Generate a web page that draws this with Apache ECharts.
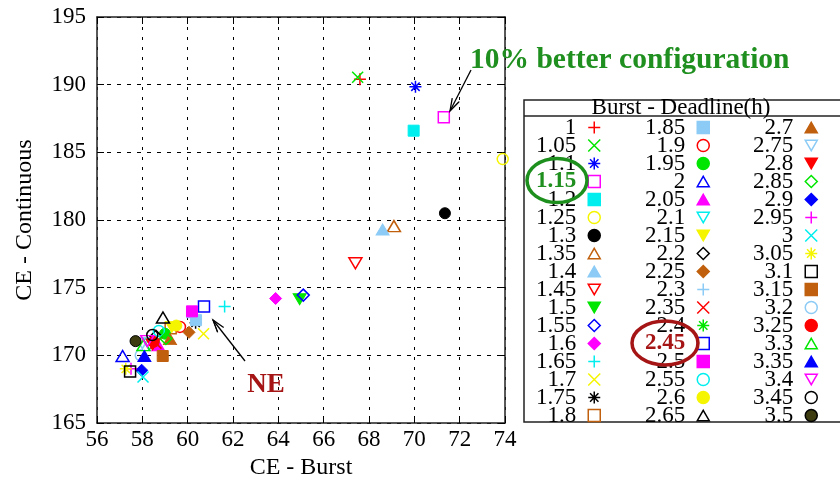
<!DOCTYPE html>
<html>
<head>
<meta charset="utf-8">
<script src="https://cdn.jsdelivr.net/npm/echarts@6/dist/echarts.min.js"></script>
<style>
  html, body { margin: 0; padding: 0; background: #fff; }
  #chart { width: 840px; height: 481px; }
</style>
</head>
<body>
<div id="chart"></div>
<script>
// deadline (h) of each run, as in the legend
const names = ['1', '1.05', '1.1', '1.15', '1.2', '1.25', '1.3', '1.35', '1.4', '1.45', '1.5', '1.55', '1.6', '1.65', '1.7', '1.75', '1.8',
  '1.85', '1.9', '1.95', '2', '2.05', '2.1', '2.15', '2.2', '2.25', '2.3', '2.35', '2.4', '2.45', '2.5', '2.55', '2.6', '2.65',
  '2.7', '2.75', '2.8', '2.85', '2.9', '2.95', '3', '3.05', '3.1', '3.15', '3.2', '3.25', '3.3', '3.35', '3.4', '3.45', '3.5'];

// CE - Burst
const burst = [67.6, 67.5, 70.05, 71.3, 69.97, 73.9, 71.35, 69.1, 68.6, 67.4, 64.94, 65.1, 63.88, 61.63, 60.7, 60.35, 59.25,
  60.37, 59.66, 59.0, 57.13, 58.7, 58.3, 59.3, 58.6, 60.06, 60.2, 58.6, 58.5, 60.72, 60.19, 58.73, 59.5, 58.91,
  59.22, 58.0, 58.45, 59.04, 57.97, 57.5, 58.03, 57.27, 57.46, 58.9, 57.93, 58.5, 58.05, 58.09, 58.22, 58.44, 57.7];

// CE - Continuous
const continuous = [190.4, 190.55, 189.85, 187.6, 186.6, 184.5, 180.5, 179.55, 179.3, 176.8, 174.15, 174.45, 174.2, 173.6, 171.6, 172.4, 172.0,
  172.6, 172.1, 171.6, 169.95, 170.75, 170.8, 172.1, 171.4, 171.7, 172.8, 170.9, 171.0, 173.6, 173.25, 171.8, 172.2, 172.8,
  171.2, 170.9, 170.8, 171.25, 168.9, 169.0, 168.4, 169.0, 168.8, 169.95, 170.0, 171.0, 170.75, 169.95, 171.05, 171.5, 171.05];

const xTicks = [56, 74, 2];
const yTicks = [165, 195, 5];

// gnuplot-like point types and colours
const colors = ['#ff0000', '#00e600', '#0000ff', '#ff00ff', '#00eeee', '#f5f500', '#000000', '#c0600e', '#8ccbf5'];
const PLUS = 'path://M0,5L10,5M5,0L5,10';
const CROSS = 'path://M0,0L10,10M10,0L0,10';
const STAR = 'path://M0,5L10,5M5,0L5,10M1.5,1.5L8.5,8.5M8.5,1.5L1.5,8.5';
const TRI = 'path://M5,0L10,8.7L0,8.7Z';
const ITRI = 'path://M0,0L10,0L5,8.7Z';
const points = [
  { s: PLUS, open: true, size: 12 },
  { s: CROSS, open: true, size: 11 },
  { s: STAR, open: true, size: 12 },
  { s: 'rect', open: true, size: 11 },
  { s: 'rect', open: false, size: 11 },
  { s: 'circle', open: true, size: 11 },
  { s: 'circle', open: false, size: 11 },
  { s: TRI, open: true, size: [13, 11] },
  { s: TRI, open: false, size: [13, 11] },
  { s: ITRI, open: true, size: [13, 11] },
  { s: ITRI, open: false, size: [13, 11] },
  { s: 'diamond', open: true, size: 12 },
  { s: 'diamond', open: false, size: 12 }
];

const serif = 'Liberation Serif';
const green = '#1f8f1f';
const darkRed = '#a51515';

let myChart = echarts.init(document.getElementById('chart'));

let series = [];
for (let i = 0; i < names.length; i++) {
  let p = points[i % 13];
  let c = colors[i % 9];
  if (names[i] == '3.45') { p = points[5]; c = '#000000'; }
  let st = p.open
    ? { color: 'transparent', borderColor: c, borderWidth: 1.5, opacity: 1 }
    : { color: c, borderColor: c, borderWidth: 1, opacity: 1 };
  if (names[i] == '3.5') { p = points[6]; st = { color: '#3c3c10', borderColor: '#000', borderWidth: 1, opacity: 1 }; }
  series.push({
    name: names[i],
    type: 'scatter',
    symbol: p.s,
    symbolSize: p.size,
    itemStyle: st,
    emphasis: { disabled: true },
    data: [[burst[i], continuous[i]]]
  });
}

function legendCol(from, to, right) {
  let data = [];
  for (let i = from; i < to; i++) {
    let d = { name: names[i] };
    if (names[i] == '1.15') d.textStyle = { color: green, fontWeight: 'bold' };
    if (names[i] == '2.45') d.textStyle = { color: darkRed, fontWeight: 'bold' };
    data.push(d);
  }
  return {
    orient: 'vertical',
    align: 'right',
    right: right,
    top: 116,
    height: 360,
    padding: 0,
    itemGap: -5,
    itemWidth: 12,
    itemHeight: 12,
    selectedMode: false,
    itemStyle: { borderWidth: 1.5 },
    textStyle: { fontFamily: serif, fontSize: 23, color: '#000', padding: [0, 7, 0, 0] },
    data: data
  };
}

function arrow(x1, y1, x2, y2) {
  let dx = x2 - x1, dy = y2 - y1;
  let len = Math.sqrt(dx * dx + dy * dy);
  let ux = dx / len, uy = dy / len;
  let L = 13, a = 0.3;
  let h1 = [x2 - L * (ux * Math.cos(a) - uy * Math.sin(a)), y2 - L * (uy * Math.cos(a) + ux * Math.sin(a))];
  let h2 = [x2 - L * (ux * Math.cos(a) + uy * Math.sin(a)), y2 - L * (uy * Math.cos(a) - ux * Math.sin(a))];
  return [
    { type: 'line', shape: { x1: x1, y1: y1, x2: x2, y2: y2 }, style: { stroke: '#000', lineWidth: 1.3 }, z: 50 },
    { type: 'polyline', shape: { points: [h1, [x2, y2], h2] }, style: { stroke: '#000', lineWidth: 1.3, fill: null }, z: 50 },
    { type: 'line', shape: { x1: h1[0], y1: h1[1], x2: x2, y2: y2 }, style: { stroke: '#000', lineWidth: 1 }, z: 50 }
  ];
}

let tickFont = { fontFamily: serif, fontSize: 23, color: '#000' };

let option = {
  animation: false,
  backgroundColor: '#fff',
  grid: { left: 97, right: 335, top: 17, bottom: 58, outerBoundsMode: 'none' },
  xAxis: [
    {
      type: 'value', min: xTicks[0], max: xTicks[1], interval: xTicks[2],
      name: 'CE - Burst', nameLocation: 'middle', nameGap: 32,
      nameTextStyle: { fontFamily: serif, fontSize: 24, color: '#000' },
      axisLine: { onZero: false, lineStyle: { color: '#222', width: 1.5 } },
      axisTick: { inside: true, length: 7, lineStyle: { color: '#000' } },
      axisLabel: Object.assign({ margin: 5 }, tickFont),
      splitLine: { show: true, lineStyle: { color: '#000', width: 1, type: [3, 7] } }
    },
    {
      type: 'value', position: 'top', min: xTicks[0], max: xTicks[1], interval: xTicks[2],
      axisLine: { onZero: false, lineStyle: { color: '#222', width: 1.5 } },
      axisTick: { inside: true, length: 7, lineStyle: { color: '#000' } },
      axisLabel: { show: false },
      splitLine: { show: false }
    }
  ],
  yAxis: [
    {
      type: 'value', min: yTicks[0], max: yTicks[1], interval: yTicks[2],
      name: 'CE - Continuous', nameLocation: 'middle', nameGap: 60,
      nameTextStyle: { fontFamily: serif, fontSize: 24, color: '#000' },
      axisLine: { onZero: false, lineStyle: { color: '#222', width: 1.5 } },
      axisTick: { inside: true, length: 7, lineStyle: { color: '#000' } },
      axisLabel: Object.assign({ margin: 11 }, tickFont),
      splitLine: { show: true, lineStyle: { color: '#000', width: 1, type: [4, 6] } }
    },
    {
      type: 'value', position: 'right', min: yTicks[0], max: yTicks[1], interval: yTicks[2],
      axisLine: { onZero: false, lineStyle: { color: '#222', width: 1.5 } },
      axisTick: { inside: true, length: 7, lineStyle: { color: '#000' } },
      axisLabel: { show: false },
      splitLine: { show: false }
    }
  ],
  legend: [legendCol(0, 17, 239), legendCol(17, 34, 130), legendCol(34, 51, 22)],
  graphic: [
    // legend frame
    { type: 'rect', shape: { x: 524, y: 100, width: 330, height: 322 }, style: { fill: null, stroke: '#222', lineWidth: 1.5 } },
    { type: 'line', shape: { x1: 524, y1: 116, x2: 840, y2: 116 }, style: { stroke: '#222', lineWidth: 1.5 } },
    { type: 'text', x: 681, y: 108, style: { text: 'Burst - Deadline(h)', fontFamily: serif, fontSize: 23, fill: '#000', align: 'center', verticalAlign: 'middle' } },
    // highlights
    { type: 'ellipse', shape: { cx: 557, cy: 180.5, rx: 30, ry: 22 }, style: { fill: null, stroke: '#1d8f1d', lineWidth: 3.5 }, z: 60 },
    { type: 'ellipse', shape: { cx: 665, cy: 343, rx: 33, ry: 22 }, style: { fill: null, stroke: darkRed, lineWidth: 3.5 }, z: 60 },
    { type: 'text', x: 470, y: 60, style: { text: '10% better configuration', fontFamily: serif, fontWeight: 'bold', fontSize: 29.5, fill: green, verticalAlign: 'middle' }, z: 60 },
    { type: 'text', x: 266, y: 385, style: { text: 'NE', fontFamily: serif, fontWeight: 'bold', fontSize: 27, fill: darkRed, align: 'center', verticalAlign: 'middle' }, z: 60 }
  ].concat(arrow(471, 70, 450, 111)).concat(arrow(245, 361, 213, 320)),
  series: series
};

myChart.setOption(option);
</script>
</body>
</html>
